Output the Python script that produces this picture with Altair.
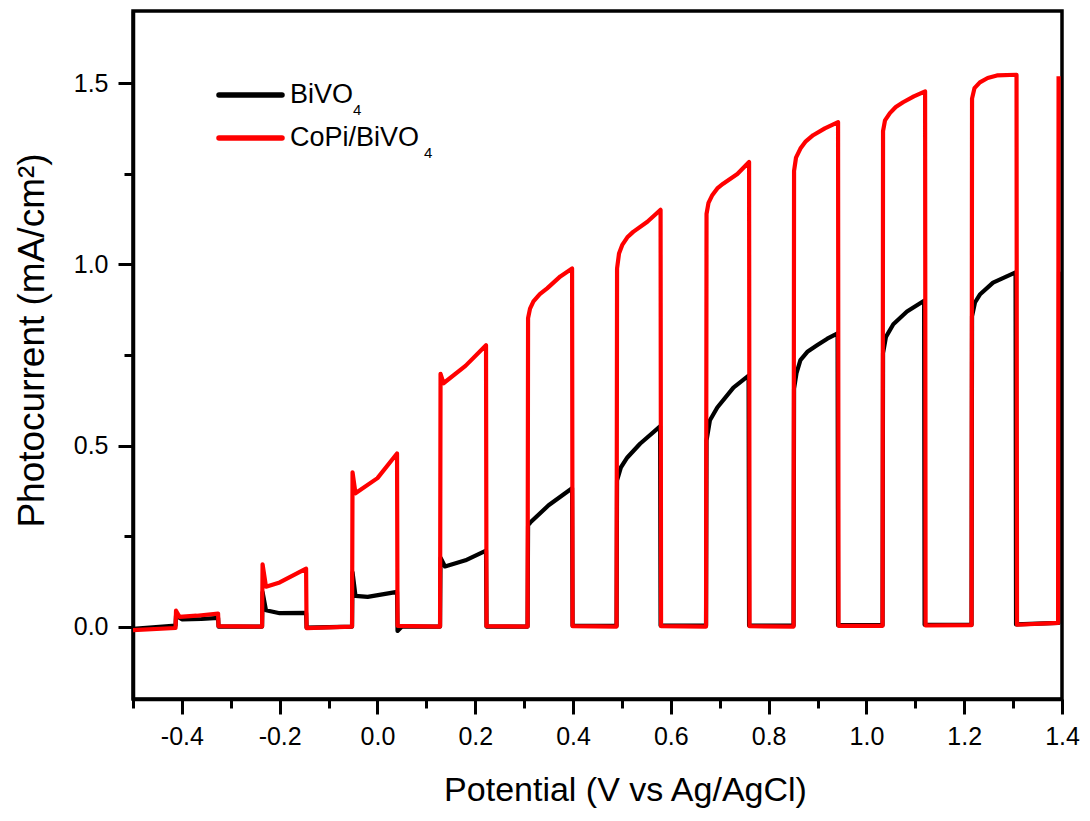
import altair as alt
import pandas as pd

# ---- data (one row per light pulse) ----
bivo_x = [-0.500, -0.413, -0.412, -0.400, -0.360, -0.326,
          -0.325, -0.236, -0.235, -0.228, -0.200, -0.146,
          -0.145, -0.052, -0.051, -0.045, -0.020, 0.040,
          0.041, 0.050, 0.128, 0.129, 0.138, 0.180, 0.222,
          0.223, 0.307, 0.308, 0.313, 0.350, 0.398,
          0.399, 0.489, 0.490, 0.498, 0.511, 0.537, 0.578,
          0.579, 0.672, 0.673, 0.680, 0.695, 0.728, 0.759,
          0.760, 0.851, 0.852, 0.857, 0.865, 0.880, 0.899, 0.920, 0.941,
          0.942, 1.033, 1.034, 1.040, 1.055, 1.083, 1.118,
          1.119, 1.215, 1.216, 1.222, 1.232, 1.259, 1.305,
          1.306, 1.393, 1.394]
bivo_y = [-0.006, 0.003, 0.030, 0.020, 0.021, 0.024,
          0.000, 0.000, 0.095, 0.045, 0.037, 0.038,
          -0.003, 0.000, 0.150, 0.085, 0.082, 0.096,
          -0.012, 0.000, 0.000, 0.190, 0.166, 0.183, 0.210,
          0.000, 0.000, 0.280, 0.288, 0.335, 0.382,
          0.002, 0.002, 0.404, 0.440, 0.467, 0.505, 0.553,
          0.003, 0.003, 0.514, 0.570, 0.605, 0.660, 0.693,
          0.003, 0.003, 0.657, 0.700, 0.736, 0.760, 0.777, 0.795, 0.810,
          0.004, 0.004, 0.755, 0.800, 0.835, 0.870, 0.900,
          0.005, 0.005, 0.857, 0.895, 0.917, 0.950, 0.978,
          0.006, 0.010, 0.980]

copi_x = [-0.500, -0.413, -0.412, -0.405, -0.370, -0.326,
          -0.325, -0.236, -0.235, -0.228, -0.200, -0.146,
          -0.145, -0.052, -0.051, -0.045, 0.000, 0.040,
          0.041, 0.128, 0.129, 0.135, 0.180, 0.222,
          0.223, 0.307, 0.308, 0.312, 0.319, 0.332, 0.347, 0.374, 0.398,
          0.399, 0.489, 0.490, 0.494, 0.501, 0.511, 0.523, 0.552, 0.579,
          0.580, 0.672, 0.673, 0.677, 0.685, 0.695, 0.707, 0.736, 0.760,
          0.761, 0.851, 0.852, 0.856, 0.865, 0.876, 0.891, 0.915, 0.942,
          0.943, 1.033, 1.034, 1.038, 1.048, 1.060, 1.075, 1.097, 1.120,
          1.121, 1.215, 1.216, 1.221, 1.232, 1.248, 1.267, 1.307,
          1.308, 1.392, 1.393]
copi_y = [-0.010, -0.004, 0.044, 0.027, 0.030, 0.036,
          0.001, 0.000, 0.172, 0.110, 0.122, 0.160,
          -0.004, 0.000, 0.426, 0.368, 0.410, 0.478,
          0.002, 0.000, 0.698, 0.672, 0.720, 0.777,
          0.001, 0.000, 0.852, 0.878, 0.898, 0.918, 0.934, 0.967, 0.989,
          0.001, 0.000, 0.989, 1.030, 1.055, 1.075, 1.090, 1.118, 1.151,
          0.001, 0.000, 1.140, 1.170, 1.192, 1.210, 1.223, 1.250, 1.283,
          0.001, 0.000, 1.258, 1.295, 1.320, 1.340, 1.357, 1.376, 1.393,
          0.002, 0.002, 1.368, 1.398, 1.418, 1.435, 1.448, 1.464, 1.478,
          0.003, 0.004, 1.458, 1.487, 1.503, 1.515, 1.522, 1.524,
          0.005, 0.010, 1.520]

series_names = ["BiVO4", "CoPi/BiVO4"]
series_colors = ["#000000", "#ff0000"]
legend_main = ["BiVO", "CoPi/BiVO"]
legend_sub = ["4", "4"]

x_ticks = [-0.5, -0.4, -0.3, -0.2, -0.1, 0.0, 0.1, 0.2, 0.3, 0.4, 0.5, 0.6, 0.7, 0.8, 0.9, 1.0,
           1.1, 1.2, 1.3, 1.4]
y_ticks = [0.0, 0.25, 0.5, 0.75, 1.0, 1.25, 1.5]

FONT = "Liberation Sans"

df_b = pd.DataFrame({"x": bivo_x, "y": bivo_y, "i": list(range(len(bivo_x)))})
df_r = pd.DataFrame({"x": copi_x, "y": copi_y, "i": list(range(len(copi_x)))})
leg = pd.DataFrame({"name": series_names, "color": series_colors,
                    "main": legend_main, "sub": legend_sub})

xmajor = "abs(datum.value*5 - round(datum.value*5)) < 0.001"
ymajor = "abs(datum.value*2 - round(datum.value*2)) < 0.001"

xscale = alt.Scale(domain=[-0.5, 1.4], nice=False, zero=False)
yscale = alt.Scale(domain=[-0.2, 1.7], nice=False, zero=False)

x_axis = alt.Axis(
    values=x_ticks, title="Potential (V vs Ag/AgCl)", grid=False,
    labelExpr=f"{xmajor} ? replace(format(datum.value, '.1f'), '\u2212', '-') : ''",
    tickSize={"condition": {"test": xmajor, "value": 15}, "value": 9},
    labelFlush=False, labelOverlap=False, labelPadding=10, titlePadding=24,
    titleX=492, titleFontSize=34,
)
y_axis = alt.Axis(
    values=y_ticks, title="Photocurrent (mA/cm\u00b2)", grid=False,
    labelExpr=f"{ymajor} ? replace(format(datum.value, '.1f'), '\u2212', '-') : ''",
    tickSize={"condition": {"test": ymajor, "value": 15}, "value": 9},
    labelFlush=False, labelOverlap=False, labelPadding=10, titlePadding=22,
    titleY=329, titleFontSize=37,
)

black = alt.Chart(df_b).mark_line(color=series_colors[0], strokeWidth=4.2, strokeJoin="round",
                                  clip=True).encode(
    x=alt.X("x:Q", scale=xscale, axis=x_axis),
    y=alt.Y("y:Q", scale=yscale, axis=y_axis),
    order="i:Q",
)
red = alt.Chart(df_r).mark_line(color=series_colors[1], strokeWidth=4.2, strokeJoin="round",
                                clip=True).encode(
    x=alt.X("x:Q", scale=xscale, axis=x_axis),
    y=alt.Y("y:Q", scale=yscale, axis=y_axis),
    order="i:Q",
)

layers = [black, red]
sub_x = [220, 291]
for k in range(2):
    row = leg.iloc[[k]]
    layers.append(alt.Chart(row).mark_rule(color=series_colors[k], strokeWidth=5.5, strokeCap="round").encode(
        x=alt.value(86), x2=alt.value(149), y=alt.value(84 + 43 * k)))
    layers.append(alt.Chart(row).mark_text(align="left", baseline="alphabetic", fontSize=27, font=FONT,
                                           color="black").encode(
        x=alt.value(157), y=alt.value(92 + 43 * k), text="main:N"))
    layers.append(alt.Chart(row).mark_text(align="left", baseline="alphabetic", fontSize=15, font=FONT,
                                           color="black").encode(
        x=alt.value(sub_x[k]), y=alt.value(104 + 43 * k), text="sub:N"))

chart = alt.layer(*layers).properties(
    width=929, height=688,
    autosize="none",
    background="white",
    padding={"left": 125, "top": 3, "right": 20, "bottom": 110},
).configure_view(
    stroke="black", strokeWidth=3.5,
).configure_axis(
    domainColor="black", domainWidth=3.5, tickColor="black", tickWidth=3,
    labelFont=FONT, labelFontSize=25, labelColor="black",
    titleFont=FONT, titleFontWeight="normal", titleColor="black",
)

chart.save("out.html", embed_options={"renderer": "svg", "actions": False})
